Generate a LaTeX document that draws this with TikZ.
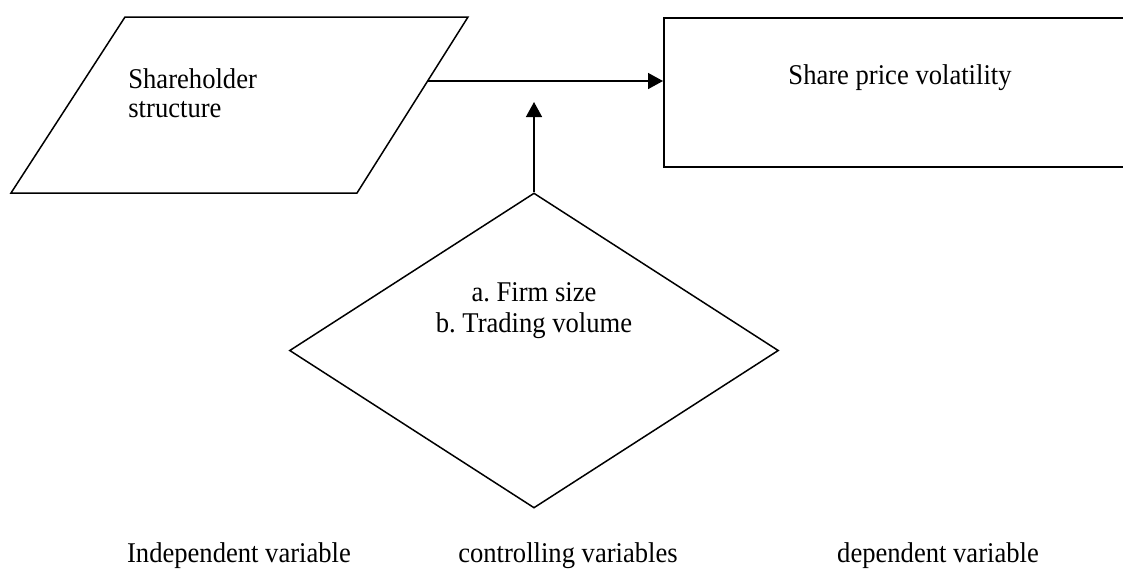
\documentclass[tikz,border=0pt]{standalone}
\usepackage{fontspec}
\setmainfont{Liberation Serif}[FakeStretch=0.93]
\usetikzlibrary{arrows.meta,shapes.geometric}
\frenchspacing
\tikzset{
  ln/.style={draw=black, line width=0.75pt},
  arr/.style={ln, -{Triangle[length=7.5pt,width=8pt]}},
  txt/.style={inner sep=0pt, font=\fontsize{14.3}{16}\selectfont},
}
\begin{document}
\begin{tikzpicture}[x=0.5pt,y=-0.5pt]
\useasboundingbox (0,0) rectangle (1123,570);
\clip (0,0) rectangle (1123,570);
% independent variable: parallelogram
\draw[ln, line join=miter] (125,17) -- (468,17) -- (357,193) -- (11,193) -- cycle;
\node[txt, anchor=base west] (ind1) at (128,88) {Shareholder};
\node[txt, anchor=base west] (ind2) at (128,117) {structure};
\coordinate (indR) at (428,81);
% dependent variable: rectangle running off the right edge
\node[ln, rectangle, inner sep=0pt, minimum width=240pt, minimum height=74.5pt, anchor=north west] (dep) at (663,17) {};
\node[txt, anchor=base] (deptxt) at (900,84) {Share price volatility};
% controlling variables: diamond
\node[ln, diamond, inner sep=0pt, minimum width=244.5pt, minimum height=157.5pt] (ctrl) at (534,350.5) {};
\node[txt, anchor=base] (c1) at (534,301) {a.\ Firm size};
\node[txt, anchor=base] (c2) at (534,332) {b.\ Trading volume};
\coordinate (tip) at (534,102);
% connectors
\draw[arr] (indR) -- (dep.west |- indR);
\draw[arr] (ctrl.north) -- (tip);
% captions
\node[txt, anchor=base] (l1) at (239,562) {Independent variable};
\node[txt, anchor=base] (l2) at (568,562) {controlling variables};
\node[txt, anchor=base] (l3) at (938,562) {dependent variable};
\end{tikzpicture}
\end{document}
